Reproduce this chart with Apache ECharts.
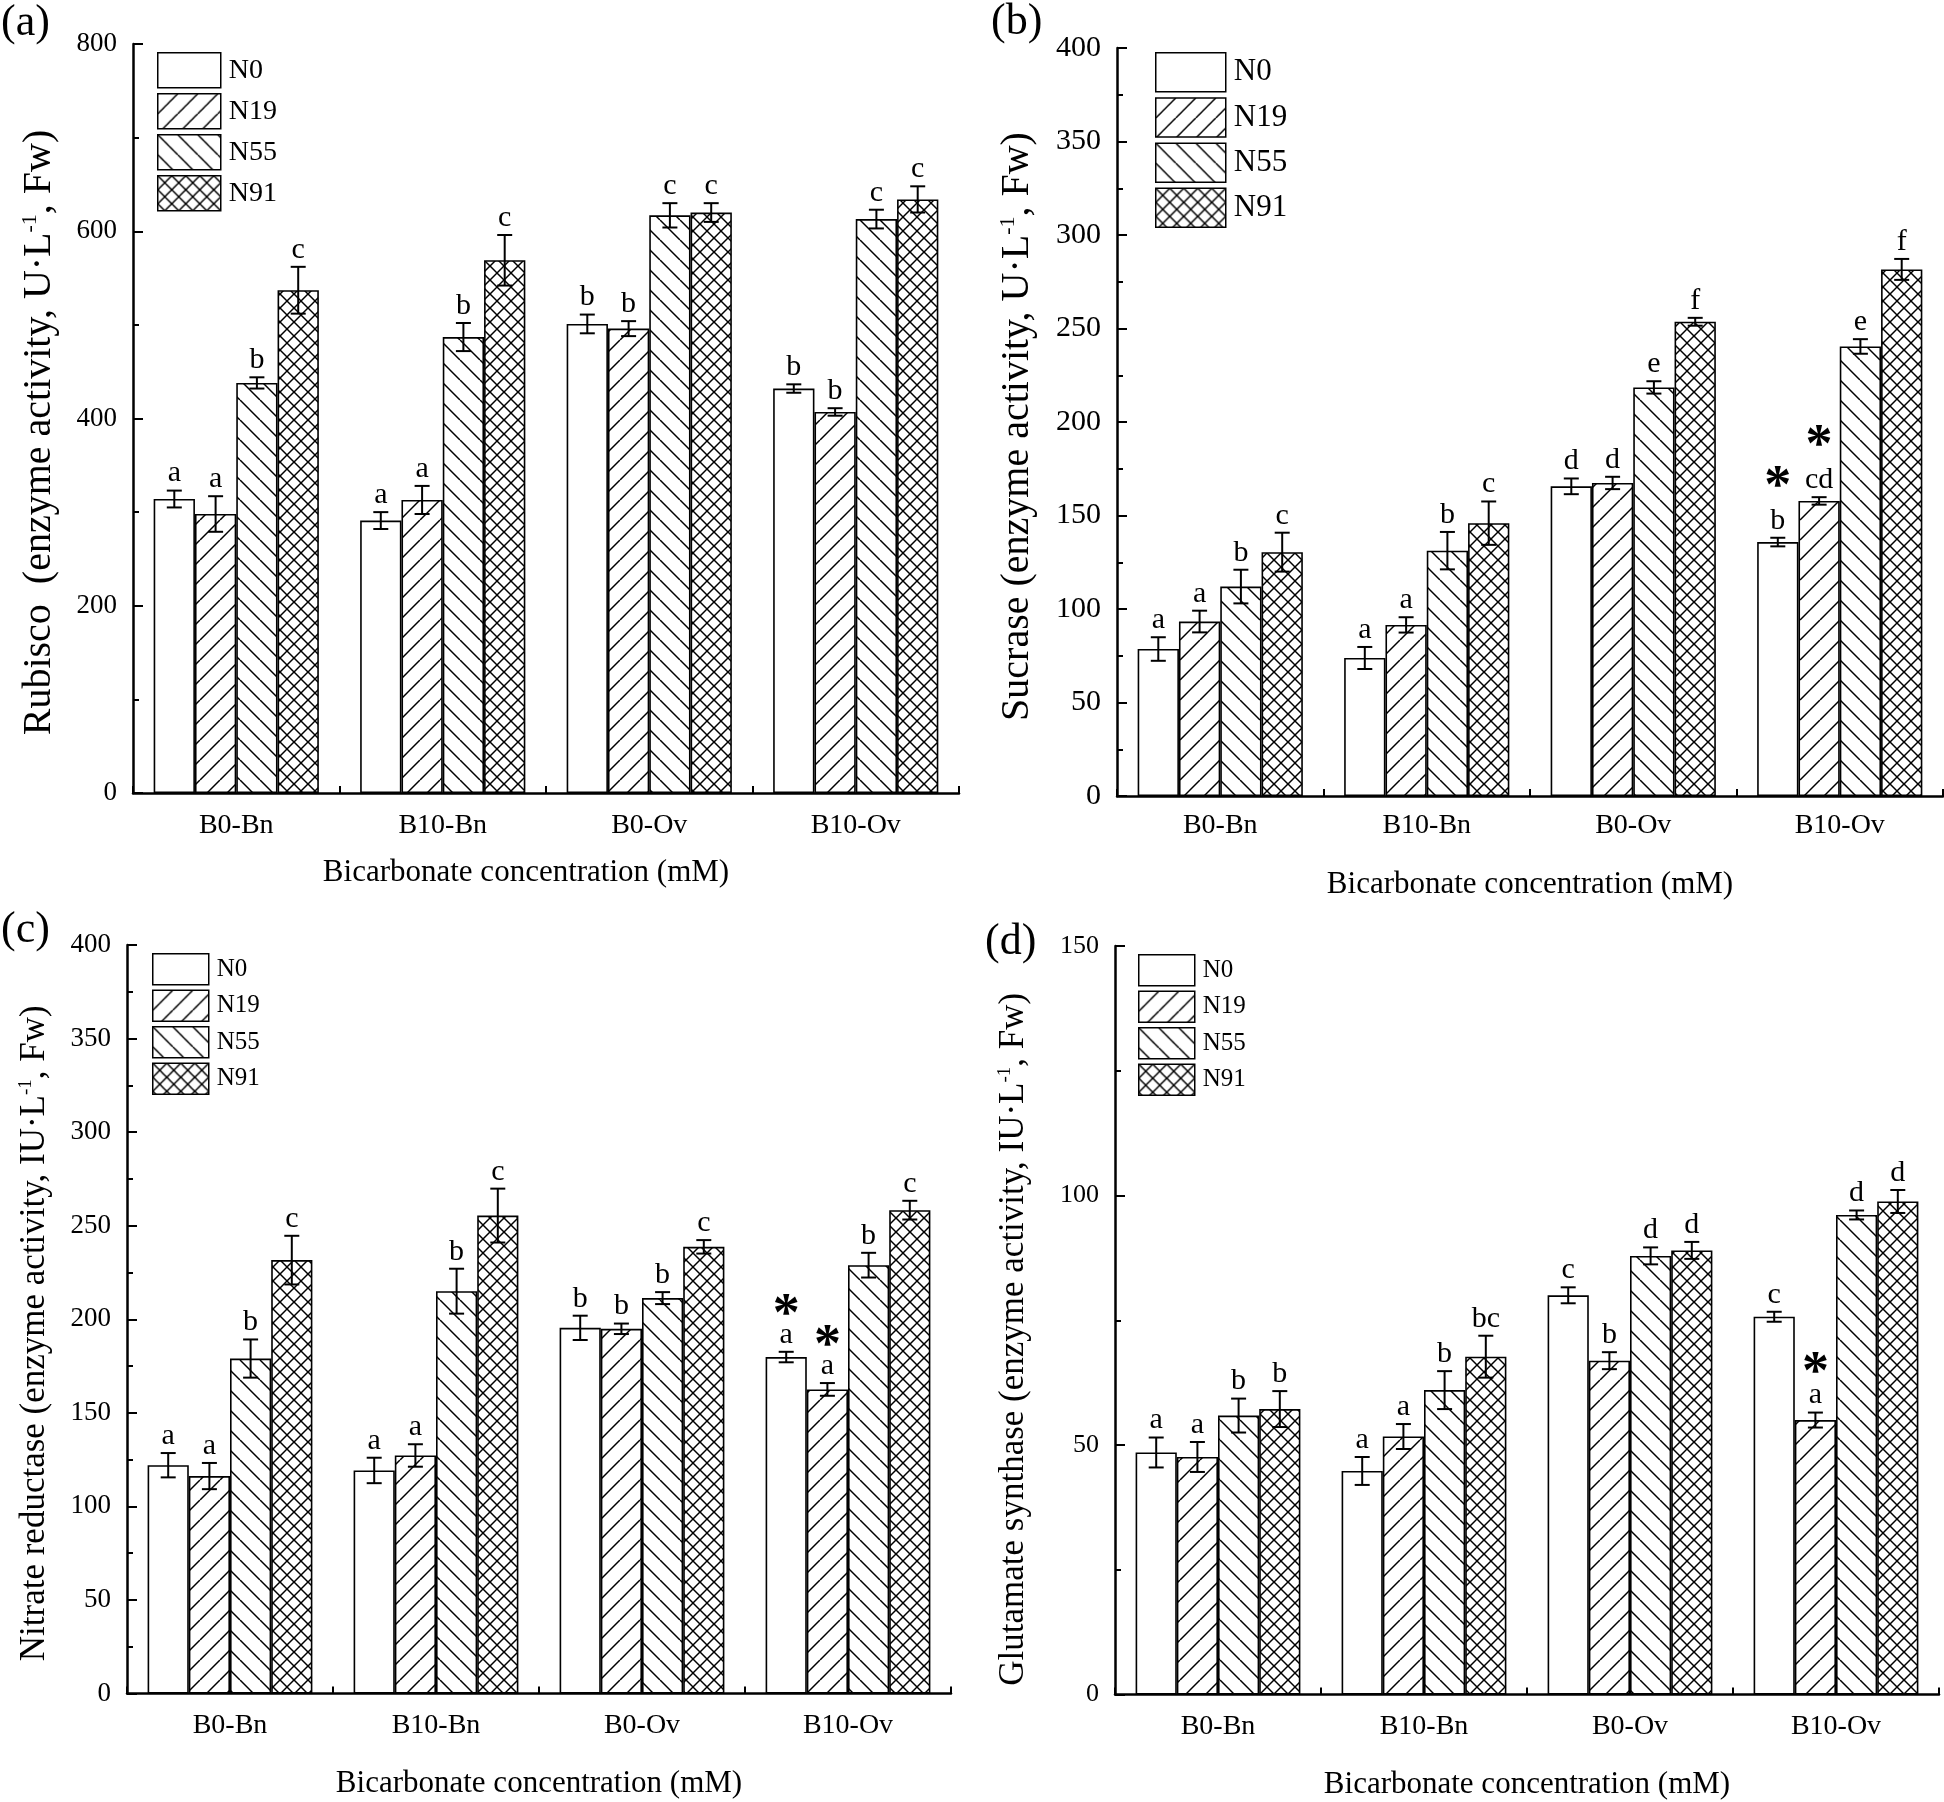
<!DOCTYPE html>
<html><head><meta charset="utf-8">
<script src="https://cdn.jsdelivr.net/npm/echarts@6/dist/echarts.min.js"></script>
<style>html,body{margin:0;padding:0;background:#fff}#c{width:1944px;height:1802px}</style>
</head><body><div id="c"></div>
<script>
// ---------------- DATA ----------------
const categories = ['B0-Bn', 'B10-Bn', 'B0-Ov', 'B10-Ov'];
const seriesNames = ['N0', 'N19', 'N55', 'N91'];

// (a) Rubisco — rows: N0, N19, N55, N91 ; columns: categories
const rubiscoMean = [[314, 291, 501, 432], [298, 313, 496, 407], [438, 487, 617, 613], [537, 569, 620, 634]];
const rubiscoErr = [[9, 9, 10, 4.5], [19, 15, 8, 4], [6, 15, 13, 10], [25, 27, 10, 14]];
const rubiscoLetters = [['a', 'a', 'b', 'b'], ['a', 'a', 'b', 'b'], ['b', 'b', 'c', 'c'], ['c', 'c', 'c', 'c']];
const rubiscoStars = [[0, 0, 0, 0], [0, 0, 0, 0], [0, 0, 0, 0], [0, 0, 0, 0]];
const rubiscoTicks = [0, 800, 200];

// (b) Sucrase
const sucraseMean = [[78.6, 73.8, 165.6, 135.8], [93.3, 91.5, 167.4, 157.8], [112, 131.2, 218.5, 240.4], [130.4, 145.9, 253.6, 281.6]];
const sucraseErr = [[6.3, 5.9, 4.2, 2.3], [5.8, 4.1, 3.3, 2], [9, 10, 3.3, 3.9], [10.4, 11.6, 2.1, 5.6]];
const sucraseLetters = [['a', 'a', 'd', 'b'], ['a', 'a', 'd', 'cd'], ['b', 'b', 'e', 'e'], ['c', 'c', 'f', 'f']];
const sucraseStars = [[0, 0, 0, 1], [0, 0, 0, 1], [0, 0, 0, 0], [0, 0, 0, 0]];
const sucraseTicks = [0, 400, 50];

// (c) Nitrate reductase
const nitrateMean = [[122, 119.2, 195.4, 179.8], [116.2, 127.2, 194.9, 162.5], [179, 215, 211.3, 228.9], [231.6, 255.4, 238.7, 258.3]];
const nitrateErr = [[6.5, 6.8, 6.5, 2.8], [7, 6, 2.8, 3.4], [10.2, 12, 3.2, 6.6], [13, 14.4, 3.6, 5]];
const nitrateLetters = [['a', 'a', 'b', 'a'], ['a', 'a', 'b', 'a'], ['b', 'b', 'b', 'b'], ['c', 'c', 'c', 'c']];
const nitrateStars = [[0, 0, 0, 1], [0, 0, 0, 1], [0, 0, 0, 0], [0, 0, 0, 0]];
const nitrateTicks = [0, 400, 50];

// (d) Glutamate synthase
const glutamateMean = [[48.5, 44.8, 80.0, 75.7], [47.6, 51.7, 66.9, 55.0], [55.9, 61.0, 87.9, 96.1], [57.2, 67.7, 89.0, 98.8]];
const glutamateErr = [[3, 2.8, 1.6, 1.0], [3, 2.5, 1.7, 1.5], [3.4, 3.8, 1.7, 0.9], [3.6, 4.2, 1.7, 2.3]];
const glutamateLetters = [['a', 'a', 'c', 'c'], ['a', 'a', 'b', 'a'], ['b', 'b', 'd', 'd'], ['b', 'bc', 'd', 'd']];
const glutamateStars = [[0, 0, 0, 0], [0, 0, 0, 1], [0, 0, 0, 0], [0, 0, 0, 0]];
const glutamateTicks = [0, 150, 50];

const xTitle = 'Bicarbonate concentration (mM)';
const yTitles = [
  'Rubisco  (enzyme activity, U·L{s|-1}, Fw)',
  'Sucrase (enzyme activity, U·L{s|-1}, Fw)',
  'Nitrate reductase (enzyme activity, IU·L{s|-1}, Fw)',
  'Glutamate synthase (enzyme activity, IU·L{s|-1}, Fw)'
];
const panelLabels = ['(a)', '(b)', '(c)', '(d)'];

// ---------------- STYLE / LAYOUT ----------------
const F = 'Liberation Serif';
function makePattern(kind, s) {
  const c = document.createElement('canvas');
  c.width = s; c.height = s;
  const g = c.getContext('2d');
  g.fillStyle = '#fff'; g.fillRect(0, 0, s, s);
  g.strokeStyle = '#000'; g.lineWidth = 1.5;
  const seg = (x0, y0, x1, y1) => { g.beginPath(); g.moveTo(x0, y0); g.lineTo(x1, y1); g.stroke(); };
  if (kind === 'fwd' || kind === 'cross') { seg(0, s, s, 0); seg(-s, s, 0, 0); seg(s, s, 2 * s, 0); }
  if (kind === 'back' || kind === 'cross') { seg(0, 0, s, s); seg(-s, 0, 0, s); seg(s, 0, 2 * s, s); }
  return { image: c, repeat: 'repeat' };
}
const fills = ['#ffffff', makePattern('fwd', 20), makePattern('back', 20), makePattern('cross', 14)];

const panels = [
  { mean: rubiscoMean, err: rubiscoErr, letters: rubiscoLetters, stars: rubiscoStars, ticks: rubiscoTicks,
    grid: { left: 133, top: 44, width: 826, height: 749 }, tickFont: 27, labelMargin: 19, xGap: 64, xPad: [0, 40, 0, 0],
    yGap: 74, yPad: [0, 28, 0, 0], yFont: 40, starOff: 45,
    legend: { left: 157, top: 52, w: 63, h: 35, gap: 4.5, font: 28 },
    label: { left: 1, top: 1 } },
  { mean: sucraseMean, err: sucraseErr, letters: sucraseLetters, stars: sucraseStars, ticks: sucraseTicks,
    grid: { left: 1117, top: 48, width: 826, height: 748 }, tickFont: 30, labelMargin: 16, xGap: 73, xPad: [0, 0, 0, 0],
    yGap: 80, yPad: [0, 9, 0, 0], yFont: 40, starOff: 57,
    legend: { left: 1155, top: 52, w: 70, h: 39, gap: 4.7, font: 31 },
    label: { left: 991, top: 0 } },
  { mean: nitrateMean, err: nitrateErr, letters: nitrateLetters, stars: nitrateStars, ticks: nitrateTicks,
    grid: { left: 127, top: 945, width: 824, height: 748.5 }, tickFont: 27, labelMargin: 18, xGap: 75, xPad: [0, 0, 0, 0],
    yGap: 75, yPad: [0, 28, 0, 0], yFont: 35, starOff: 43,
    legend: { left: 152, top: 953, w: 56, h: 31, gap: 4, font: 25 },
    label: { left: 1, top: 908 } },
  { mean: glutamateMean, err: glutamateErr, letters: glutamateLetters, stars: glutamateStars, ticks: glutamateTicks,
    grid: { left: 1115, top: 946, width: 824, height: 748.5 }, tickFont: 26, labelMargin: 18, xGap: 75, xPad: [0, 0, 0, 0],
    yGap: 84, yPad: [0, 38, 0, 0], yFont: 35, starOff: 46,
    legend: { left: 1138, top: 954, w: 56, h: 31, gap: 4, font: 25 },
    label: { left: 985, top: 920 } }
];

const option = { backgroundColor: '#fff', animation: false, grid: [], xAxis: [], yAxis: [], legend: [], title: [], series: [] };

panels.forEach((p, pi) => {
  option.grid.push(Object.assign({ containLabel: false }, p.grid));
  option.title.push({ text: panelLabels[pi], left: p.label.left, top: p.label.top, padding: 0,
    textStyle: { fontFamily: F, fontSize: 44, fontWeight: 'normal', color: '#000' } });
  option.xAxis.push({
    type: 'category', gridIndex: pi, data: categories,
    axisLine: { lineStyle: { color: '#000', width: 2.5 } },
    axisTick: { show: true, inside: true, length: 7, lineStyle: { color: '#000', width: 2 } },
    axisLabel: { color: '#000', fontSize: 28, fontFamily: F, margin: p.labelMargin },
    splitLine: { show: false },
    name: xTitle, nameLocation: 'middle', nameGap: p.xGap,
    nameTextStyle: { color: '#000', fontSize: 31, fontFamily: F, padding: p.xPad }
  });
  option.yAxis.push({
    type: 'value', gridIndex: pi, min: p.ticks[0], max: p.ticks[1], interval: p.ticks[2],
    axisLine: { show: true, lineStyle: { color: '#000', width: 2.5 } },
    axisTick: { show: true, inside: true, length: 10, lineStyle: { color: '#000', width: 2 } },
    minorTick: { show: true, splitNumber: 2, length: 6, lineStyle: { color: '#000', width: 2 } },
    splitLine: { show: false }, minorSplitLine: { show: false },
    axisLabel: { color: '#000', fontSize: p.tickFont, fontFamily: F, margin: 16 },
    name: yTitles[pi], nameLocation: 'middle', nameGap: p.yGap,
    nameTextStyle: { color: '#000', fontSize: p.yFont, fontFamily: F, padding: p.yPad,
      rich: { s: { fontSize: Math.round(p.yFont * 0.55), fontFamily: F, color: '#000', verticalAlign: 'top' } } }
  });
  option.legend.push({
    orient: 'vertical', left: p.legend.left, top: p.legend.top, padding: 0,
    itemWidth: p.legend.w, itemHeight: p.legend.h, itemGap: p.legend.gap, icon: 'rect',
    data: seriesNames, selectedMode: false,
    itemStyle: { borderColor: '#000', borderWidth: 1.5 },
    textStyle: { fontFamily: F, fontSize: p.legend.font, color: '#000', padding: [0, 0, 0, 3] }
  });
  seriesNames.forEach((nm, si) => {
    option.series.push({
      type: 'bar', name: nm, xAxisIndex: pi, yAxisIndex: pi, data: p.mean[si],
      barCategoryGap: '20%', barGap: '0%', silent: true,
      itemStyle: { color: fills[si], borderColor: '#000', borderWidth: 1.6 }
    });
  });
  const ebData = [];
  seriesNames.forEach((nm, si) => {
    categories.forEach((c, ci) => { ebData.push([ci, p.mean[si][ci], p.err[si][ci], si]); });
  });
  option.series.push({
    type: 'custom', xAxisIndex: pi, yAxisIndex: pi, data: ebData, clip: false, silent: true, z: 10,
    encode: { x: 0, y: 1 },
    renderItem: function (params, api) {
      const ci = api.value(0), v = api.value(1), e = api.value(2), si = api.value(3);
      const band = api.size([1, 0])[0];
      const bw = band * 0.8 / 4;
      const cx = api.coord([ci, 0])[0] + (si - 1.5) * bw;
      const top = api.coord([ci, v + e])[1];
      const bot = api.coord([ci, v - e])[1];
      const cap = 7.5;
      const ls = { stroke: '#000', lineWidth: 2 };
      const children = [
        { type: 'line', shape: { x1: cx, y1: top, x2: cx, y2: bot }, style: ls },
        { type: 'line', shape: { x1: cx - cap, y1: top, x2: cx + cap, y2: top }, style: ls },
        { type: 'line', shape: { x1: cx - cap, y1: bot, x2: cx + cap, y2: bot }, style: ls },
        { type: 'text', style: { text: p.letters[si][ci], x: cx, y: top - 2, align: 'center', verticalAlign: 'bottom',
          fontSize: 30, fontFamily: F, fill: '#000' } }
      ];
      if (p.stars[si][ci]) {
        children.push({ type: 'text', style: { text: '*', x: cx, y: top - p.starOff + 7, align: 'center', verticalAlign: 'middle',
          fontSize: 54, fontWeight: 'bold', fontFamily: F, fill: '#000' } });
      }
      return { type: 'group', children: children };
    }
  });
});

const chart = echarts.init(document.getElementById('c'), null, { renderer: 'canvas', width: 1944, height: 1802 });
chart.setOption(option);
</script>
</body></html>
